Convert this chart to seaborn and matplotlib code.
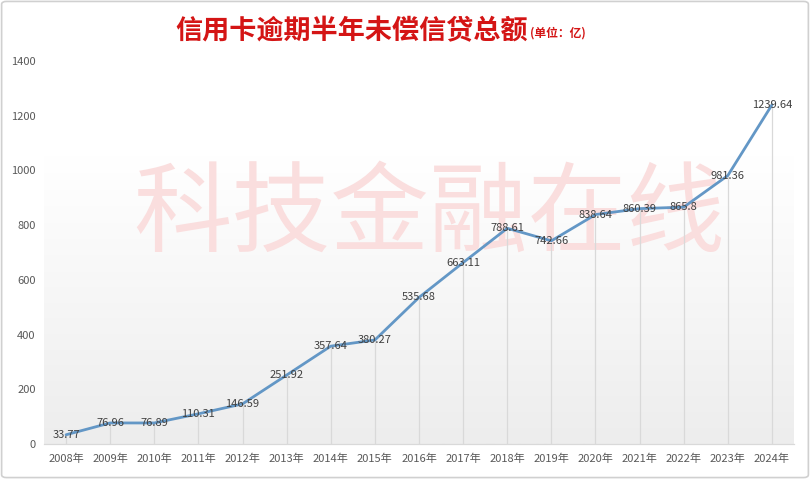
# 信用卡逾期半年未偿信贷总额 折线图
import numpy as np
import pandas as pd
import seaborn as sns
import matplotlib.pyplot as plt
from matplotlib.patches import FancyBboxPatch
from matplotlib.colors import LinearSegmentedColormap

years = ['2008年', '2009年', '2010年', '2011年', '2012年', '2013年', '2014年', '2015年', '2016年',
         '2017年', '2018年', '2019年', '2020年', '2021年', '2022年', '2023年', '2024年']
amounts = [33.77, 76.96, 76.89, 110.31, 146.59, 251.92, 357.64, 380.27, 535.68,
           663.11, 788.61, 742.66, 838.64, 860.39, 865.8, 981.36, 1239.64]
labels = ['33.77', '76.96', '76.89', '110.31', '146.59', '251.92', '357.64', '380.27', '535.68',
          '663.11', '788.61', '742.66', '838.64', '860.39', '865.8', '981.36', '1239.64']
yticks = [0, 200, 400, 600, 800, 1000, 1200, 1400]

df = pd.DataFrame({'year': years, 'amount': amounts})
df['pos'] = np.arange(len(df))

sns.set_theme(style='white')
plt.rcParams['font.family'] = ['Noto Sans CJK SC', 'DejaVu Sans']

fig = plt.figure(figsize=(8.1, 4.79), dpi=100)
fig.patch.set_facecolor('white')
# 外边框
fig.patches.append(FancyBboxPatch((0.002, 0.003), 0.996, 0.994, boxstyle='round,pad=0,rounding_size=0.006',
                                  transform=fig.transFigure, fill=False, edgecolor='#d0d0d0', linewidth=1.2))
ax = fig.add_axes([44 / 810, 1 - 444 / 479, 750 / 810, 383 / 479])
ax.set_facecolor('white')

# 背景渐变 (底部浅灰 -> 上部白)
cmap = LinearSegmentedColormap.from_list('bg', [(0, '#ededed'), (0.45, '#f8f8f8'), (0.75, '#ffffff'), (1, '#ffffff')])
grad = np.linspace(0, 1, 256).reshape(-1, 1)
ax.imshow(grad, cmap=cmap, vmin=0, vmax=1, aspect='auto', extent=(-0.5, 16.5, 0, 1400),
          origin='lower', zorder=0)

# 水印
ax.text(0.513, 0.595, '科技金融在线', transform=ax.transAxes, ha='center', va='center', fontsize=71,
        color='#fadede', fontweight='light', zorder=1)

# 垂线
ax.vlines(df['pos'], 0, df['amount'], colors='#d9d9d9', linewidth=0.9, zorder=2)

sns.lineplot(data=df, x='pos', y='amount', ax=ax, color='#6397c6', linewidth=2.0, zorder=3,
             solid_joinstyle='round', solid_capstyle='round')

for p, v, t in zip(df['pos'], amounts, labels):
    ax.text(p, v, t, ha='center', va='center', fontsize=8, color='#404040', zorder=4)

ax.set_xlim(-0.5, 16.5)
ax.set_ylim(0, 1400)
ax.set_xticks(df['pos'])
ax.set_xticklabels(years, fontsize=8, color='#595959')
ax.set_yticks(yticks)
ax.set_yticklabels([str(t) for t in yticks], fontsize=8, color='#595959')
ax.tick_params(axis='both', length=0, pad=6)
ax.tick_params(axis='x', pad=7)
ax.set_xlabel('')
ax.set_ylabel('')
for s in ['top', 'right', 'left']:
    ax.spines[s].set_visible(False)
ax.spines['bottom'].set_color('#d9d9d9')
ax.spines['bottom'].set_linewidth(0.9)

fig.text(528 / 810, 0.935, '信用卡逾期半年未偿信贷总额', ha='right', va='center', fontsize=19.5,
         color='#d41515', fontweight='bold')
fig.text(530 / 810, 0.932, '(单位：亿)', ha='left', va='center', fontsize=8.5,
         color='#d41515', fontweight='bold')

fig.savefig('out.png', dpi=100)
